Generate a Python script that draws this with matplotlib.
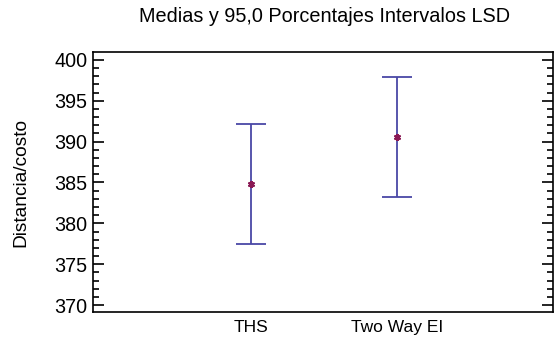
import matplotlib.pyplot as plt
from matplotlib.ticker import MultipleLocator

plt.rcParams['font.family'] = ['Liberation Sans', 'DejaVu Sans']

grupos = ['THS', 'Two Way EI']
medias = [384.85, 390.6]
lsd = [7.35, 7.35]

fig = plt.figure(figsize=(5.54, 3.38), dpi=100)
ax = fig.add_axes([93/554, 1-311.7/338, 460/554, (311.7-52.3)/338])

x = [1, 2]
ax.errorbar(x, medias, yerr=lsd, fmt='none', ecolor='#4a48a6', elinewidth=1.3,
            capsize=11, capthick=1.3)
ax.plot(x, medias, linestyle='none', marker=(6, 2, 0), color='#8a1a55',
        markersize=5, markeredgewidth=1.5)

ax.set_xlim(-0.09, 3.075)
ax.set_ylim(369.19, 400.93)
ax.set_xticks(x)
ax.set_xticklabels(grupos, fontsize=12.5)
ax.tick_params(axis='x', length=0, pad=6)

ax.yaxis.set_major_locator(MultipleLocator(5))
ax.yaxis.set_minor_locator(MultipleLocator(1))
ax.tick_params(axis='y', which='major', direction='in', length=8, width=1.2,
               labelsize=14.2, right=True, pad=4)
ax.tick_params(axis='y', which='minor', direction='in', length=4, width=1.2,
               right=True)
for s in ax.spines.values():
    s.set_linewidth(1.2)

ax.set_ylabel('Distancia/costo', fontsize=13.8)
ax.yaxis.set_label_coords(-0.138, 0.5)
fig.text(325/554, 1-17/338, 'Medias y 95,0 Porcentajes Intervalos LSD',
         ha='center', va='center', fontsize=14.3)

fig.savefig('out.png', dpi=100)
